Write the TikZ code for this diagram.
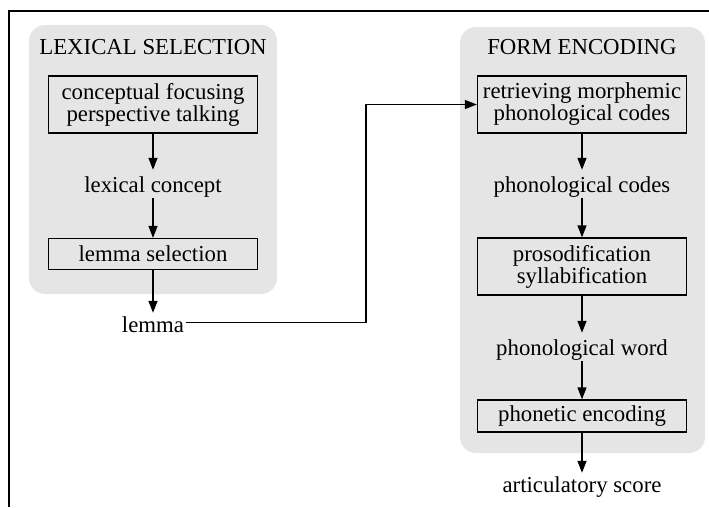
\documentclass[tikz,border=0pt]{standalone}
\usepackage{fontspec}
\setmainfont{LiberationSerif}[Extension=.ttf, UprightFont=*-Regular, BoldFont=*-Bold, ItalicFont=*-Italic, BoldItalicFont=*-BoldItalic]
\usetikzlibrary{arrows.meta}
\begin{document}
\begin{tikzpicture}[x=1pt,y=-1pt,
  panel/.style={fill=black!10, rounded corners=16pt},
  stagebox/.style={draw, line width=1.3pt, minimum width=209pt, inner sep=0pt, align=center, font=\fontsize{22.8}{22}\selectfont},
  lbl/.style={inner sep=0pt, anchor=base, text height=22pt, text depth=6pt, font=\fontsize{22.8}{22}\selectfont},
  ttl/.style={inner sep=0pt, anchor=base, font=\fontsize{22.8}{24}\selectfont},
  flow/.style={line width=1.3pt, -{Triangle[length=12pt,width=9pt]}},
]
\useasboundingbox (0,0) rectangle (709,507);
\draw[line width=2pt] (9,507) -- (9,11) -- (709,11);
\fill[panel] (29,25) rectangle (277,294);
\fill[panel] (460,27) rectangle (705,453);
% left column
\node[ttl] (t1) at (153,54) {LEXICAL SELECTION};
\node[stagebox, minimum height=57pt] (b1) at (153,104.5) {conceptual focusing\\perspective talking};
\node[lbl] (lc) at (153,192) {lexical concept};
\node[stagebox, minimum height=31pt] (b2) at (153,254) {lemma selection};
\node[lbl, text height=19pt, text depth=0pt, inner xsep=2pt] (lem) at (153,332) {lemma};
% right column
\node[ttl] (t2) at (582,54) {FORM ENCODING};
\node[stagebox, minimum height=57pt] (b3) at (582,104.5) {retrieving morphemic\\phonological codes};
\node[lbl] (pc) at (582,192) {phonological codes};
\node[stagebox, minimum height=57pt] (b4) at (582,266.5) {prosodification\\syllabification};
\node[lbl] (pw) at (582,355) {phonological word};
\node[stagebox, minimum height=32pt] (b5) at (582,416) {phonetic encoding};
\node[lbl, text height=19pt, text depth=0pt] (as) at (582,492) {articulatory score};
% arrows
\draw[flow] (b1.south) -- (lc.north);
\draw[flow] (lc.south) -- (b2.north);
\draw[flow] (b2.south) -- (lem.north);
\draw[flow] (b3.south) -- (pc.north);
\draw[flow] (pc.south) -- (b4.north);
\draw[flow] (b4.south) -- (pw.north);
\draw[flow] (pw.south) -- (b5.north);
\draw[flow] (b5.south) -- (as.north);
\coordinate (bend) at (366,200);
\draw[flow] (lem.east) -- (lem.east -| bend) -- (bend |- b3.west) -- (b3.west);
\end{tikzpicture}
\end{document}
